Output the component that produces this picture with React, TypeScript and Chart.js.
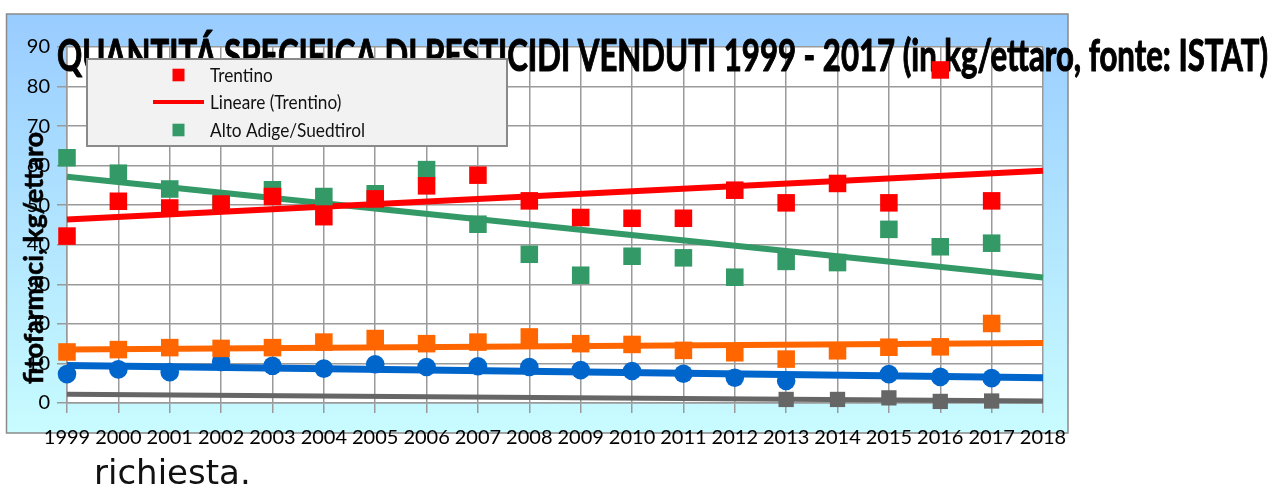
import { useEffect, useRef } from 'react';
import { Chart, registerables } from 'chart.js';

Chart.register(...registerables);

// ---- data ----
const years = [1999, 2000, 2001, 2002, 2003, 2004, 2005, 2006, 2007, 2008, 2009, 2010, 2011, 2012, 2013, 2014, 2015, 2016, 2017];
const xTickValues = [1999, 2000, 2001, 2002, 2003, 2004, 2005, 2006, 2007, 2008, 2009, 2010, 2011, 2012, 2013, 2014, 2015, 2016, 2017, 2018];
const xTickLabels = ['1999', '2000', '2001', '2002', '2003', '2004', '2005', '2006', '2007', '2008', '2009', '2010', '2011', '2012', '2013', '2014', '2015', '2016', '2017', '2018'];
const trendYears = [1999, 2018];

const trentino = [42.2, 51.0, 49.3, 50.3, 52.2, 47.1, 51.6, 54.9, 57.6, 51.1, 46.9, 46.7, 46.7, 53.8, 50.6, 55.5, 50.6, 84.2, 51.1];
const trentinoTrend = [46.4, 58.7];
const altoAdige = [62.0, 58.1, 54.1, 50.5, 53.9, 52.2, 52.9, 59.0, 45.2, 37.6, 32.3, 37.1, 36.7, 31.8, 35.8, 35.5, 43.9, 39.5, 40.4];
const altoAdigeTrend = [57.2, 31.7];
const serieArancio = [12.9, 13.5, 14.0, 13.8, 14.0, 15.4, 16.3, 15.0, 15.4, 16.7, 15.0, 14.8, 13.3, 12.7, 11.1, 13.2, 14.1, 14.2, 20.1];
const serieArancioTrend = [13.5, 15.2];
const serieBlu = [7.3, 8.5, 7.8, 10.4, 9.4, 8.7, 9.8, 9.1, 9.3, 9.1, 8.3, 8.1, 7.4, 6.4, 5.6, null, 7.3, 6.6, 6.3];
const serieBluTrend = [9.5, 6.4];
const serieGrigia = [null, null, null, null, null, null, null, null, null, null, null, null, null, null, 0.9, 0.9, 1.3, 0.4, 0.5];
const serieGrigiaTrend = [2.2, 0.5];

const yTickValues = [0, 10, 20, 30, 40, 50, 60, 70, 80, 90];

const TITLE = 'QUANTITÁ SPECIFICA DI PESTICIDI VENDUTI 1999 - 2017 (in kg/ettaro, fonte: ISTAT)';
const Y_TITLE = 'fitofarmaci, kg/ettaro';

const toPoints = (xs: number[], ys: (number | null)[]) =>
  xs.map((x, i) => ({ x, y: ys[i] })).filter((p) => p.y !== null) as { x: number; y: number }[];

const W = 1281;
const H = 487;
const FONT = 'Lato, "Open Sans", sans-serif';

const markerSet = (label: string, ys: (number | null)[], color: string, style: string, radius: number) => ({
  label,
  data: toPoints(years, ys),
  showLine: false,
  pointStyle: style,
  pointRadius: radius,
  pointHoverRadius: radius,
  pointBackgroundColor: color,
  pointBorderWidth: 0,
  backgroundColor: color,
  borderColor: color,
  clip: false,
  order: 0,
});

const trendSet = (label: string, ys: number[], color: string, width: number) => ({
  label,
  data: toPoints(trendYears, ys),
  showLine: true,
  borderColor: color,
  backgroundColor: color,
  borderWidth: width,
  pointRadius: 0,
  pointHoverRadius: 0,
  fill: false,
  clip: false,
  order: 1,
});

const backgroundPlugin = {
  id: 'bgBox',
  beforeDraw(chart: any) {
    const ctx = chart.ctx;
    const { left, top, right, bottom } = chart.chartArea;
    ctx.save();
    const g = ctx.createLinearGradient(0, 14, 0, 433);
    g.addColorStop(0, '#99ccff');
    g.addColorStop(1, '#c8fcff');
    ctx.fillStyle = g;
    ctx.fillRect(7, 14, 1061, 419);
    ctx.strokeStyle = '#8a8a8a';
    ctx.lineWidth = 1.5;
    ctx.strokeRect(6.5, 14, 1061.5, 419);
    ctx.fillStyle = '#ffffff';
    ctx.fillRect(left, top, right - left, bottom - top);
    ctx.restore();
  },
};

const titlePlugin = {
  id: 'overTitle',
  beforeDatasetsDraw(chart: any) {
    const ctx = chart.ctx;
    ctx.save();
    ctx.font = `bold 43px ${FONT}`;
    ctx.fillStyle = '#000';
    ctx.strokeStyle = '#000';
    ctx.lineWidth = 1.1;
    ctx.lineJoin = 'round';
    ctx.textAlign = 'left';
    ctx.textBaseline = 'alphabetic';
    const w = ctx.measureText(TITLE).width;
    ctx.translate(57, 71);
    ctx.scale(1211 / w, 1);
    ctx.fillText(TITLE, 0, 0);
    ctx.strokeText(TITLE, 0, 0);
    ctx.restore();
  },
};

const overlayPlugin = {
  id: 'overlay',
  afterDraw(chart: any) {
    const ctx = chart.ctx;
    const ds = chart.data.datasets;

    // y-axis title
    ctx.save();
    ctx.font = `bold 27px ${FONT}`;
    ctx.fillStyle = '#000';
    ctx.strokeStyle = '#000';
    ctx.lineWidth = 0.6;
    ctx.textAlign = 'left';
    ctx.textBaseline = 'alphabetic';
    const yw = ctx.measureText(Y_TITLE).width;
    ctx.translate(43, 384);
    ctx.rotate(-Math.PI / 2);
    ctx.scale(252 / yw, 1);
    ctx.fillText(Y_TITLE, 0, 0);
    ctx.strokeText(Y_TITLE, 0, 0);
    ctx.restore();

    // legend box
    ctx.save();
    ctx.fillStyle = '#f2f2f2';
    ctx.fillRect(87, 59, 420, 87);
    ctx.strokeStyle = '#8a8a8a';
    ctx.lineWidth = 2;
    ctx.strokeRect(87, 59, 420, 87);

    ctx.font = `18.5px ${FONT}`;
    ctx.textBaseline = 'alphabetic';
    ctx.textAlign = 'left';
    const sx = 155 / ctx.measureText(ds[1].label).width;
    const items = [
      { d: ds[0], kind: 'square', y: 75 },
      { d: ds[5], kind: 'line', y: 102 },
      { d: ds[1], kind: 'square', y: 130 },
    ];
    items.forEach((it) => {
      ctx.fillStyle = it.d.borderColor;
      if (it.kind === 'square') {
        ctx.fillRect(172.5, it.y - 6.3, 12, 12.6);
      } else {
        ctx.strokeStyle = it.d.borderColor;
        ctx.lineWidth = 4;
        ctx.beginPath();
        ctx.moveTo(153, it.y);
        ctx.lineTo(204, it.y);
        ctx.stroke();
      }
      ctx.fillStyle = '#111';
      ctx.save();
      ctx.translate(210, it.y + 6.5);
      ctx.scale(sx, 1);
      ctx.fillText(it.d.label, 0, 0);
      ctx.restore();
    });
    ctx.restore();
  },
};

export default function App() {
  const canvasRef = useRef<HTMLCanvasElement | null>(null);

  useEffect(() => {
    document.body.style.margin = '0';
    const canvas = canvasRef.current;
    if (!canvas) return;
    const gridColor = '#9a9a9a';
    const chart = new Chart(canvas, {
      type: 'scatter',
      data: {
        datasets: [
          markerSet('Trentino', trentino, '#ff0000', 'rect', 12.4),
          markerSet('Alto Adige/Suedtirol', altoAdige, '#339966', 'rect', 12.4),
          markerSet('Serie 3', serieArancio, '#ff6600', 'rect', 12.4),
          markerSet('Serie 4', serieBlu, '#0066cc', 'circle', 9.3),
          markerSet('Serie 5', serieGrigia, '#666666', 'rect', 10.8),
          trendSet('Lineare (Trentino)', trentinoTrend, '#ff0000', 6),
          trendSet('Lineare (Alto Adige/Suedtirol)', altoAdigeTrend, '#339966', 6),
          trendSet('Lineare (Serie 3)', serieArancioTrend, '#ff6600', 6),
          trendSet('Lineare (Serie 4)', serieBluTrend, '#0066cc', 7),
          trendSet('Lineare (Serie 5)', serieGrigiaTrend, '#666666', 5),
        ] as any,
      },
      options: {
        animation: false,
        responsive: false,
        maintainAspectRatio: false,
        events: [],
        layout: { padding: { top: 47, right: W - 1043, left: 0, bottom: 0 } },
        plugins: {
          legend: { display: false },
          title: { display: false },
          tooltip: { enabled: false },
        },
        scales: {
          x: {
            type: 'linear',
            min: 1999,
            max: 2018,
            afterBuildTicks: (s: any) => {
              s.ticks = xTickValues.map((v) => ({ value: v }));
            },
            afterFit: (s: any) => {
              s.height = H - 403;
            },
            ticks: {
              autoSkip: false,
              maxRotation: 0,
              minRotation: 0,
              color: '#000',
              padding: 13,
              font: { family: FONT, size: 20 },
              callback: (v: any) => xTickLabels[xTickValues.indexOf(Number(v))] ?? '',
            },
            grid: { color: gridColor, lineWidth: 1.5, tickLength: 10, drawTicks: true },
            border: { display: true, color: gridColor, width: 1.5 },
          },
          y: {
            type: 'linear',
            min: 0,
            max: 90,
            afterBuildTicks: (s: any) => {
              s.ticks = yTickValues.map((v) => ({ value: v }));
            },
            afterFit: (s: any) => {
              s.width = 67;
            },
            ticks: {
              color: '#000',
              padding: 7,
              font: { family: FONT, size: 20 },
              callback: (v: any) => String(v),
            },
            grid: { color: gridColor, lineWidth: 1.5, tickLength: 10, drawTicks: true },
            border: { display: true, color: gridColor, width: 1.5 },
          },
        },
      } as any,
      plugins: [backgroundPlugin, titlePlugin, overlayPlugin],
    });
    return () => chart.destroy();
  }, []);

  return (
    <div style={{ position: 'fixed', left: 0, top: 0, width: W, height: H, background: '#fff', overflow: 'hidden' }}>
      <canvas ref={canvasRef} width={W} height={H} style={{ width: W, height: H, display: 'block' }} />
      <div
        style={{
          position: 'absolute',
          left: 94,
          top: 455,
          fontFamily: '"DejaVu Sans", sans-serif',
          fontSize: 34,
          lineHeight: '34px',
          color: '#111',
          whiteSpace: 'nowrap',
        }}
      >
        richiesta.
      </div>
    </div>
  );
}
